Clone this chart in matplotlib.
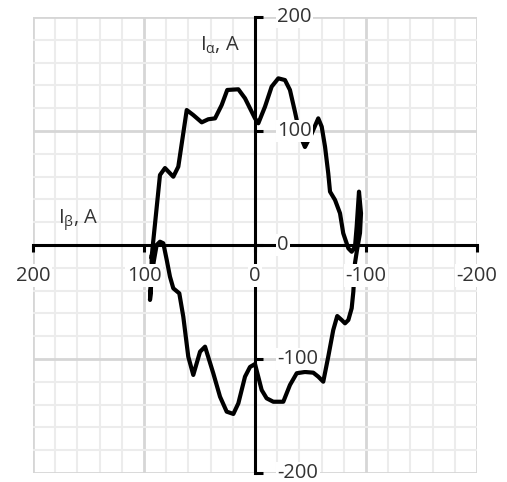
import numpy as np
import matplotlib
matplotlib.use("Agg")
import matplotlib.pyplot as plt
from matplotlib.ticker import MultipleLocator

plt.rcParams['font.family'] = ['Open Sans', 'DejaVu Sans']
plt.rcParams['mathtext.fontset'] = 'dejavusans'

# current vector trajectory: I_beta (x) vs I_alpha (y), amperes
i_beta = [93.1, 85.6, 81.1, 73.6, 69.1, 61.5, 55.6, 48.0, 42.1, 36.0,
          30.0, 25.0, 15.0, 9.0, 0.0, -3.0, -9.0, -15.0, -21.0, -27.0,
          -31.5, -36.0, -40.5, -45.0, -50.5, -57.0, -60.1, -63.1, -66.0, -67.6,
          -72.1, -76.6, -79.5, -84.1, -87.1, -90.1, -91.6, -93.7, -95.5, -94.6,
          -91.9, -90.1, -89.2, -88.6, -87.1, -84.1, -81.1, -78.1, -74.1, -70.5,
          -66.0, -61.5, -57.0, -52.5, -45.0, -37.6, -31.5, -25.5, -16.5, -10.5,
          -6.0, 0.0, 4.5, 9.0, 15.0, 19.5, 25.5, 31.5, 37.6, 45.0,
          49.5, 55.6, 60.1, 64.6, 68.2, 73.6, 76.6, 79.5, 82.6, 85.6,
          88.6, 91.0, 93.7, 94.6, 93.2, 93.1]
i_alpha = [-10.3, 61.4, 67.5, 59.9, 68.7, 118.4, 114.0, 107.6, 110.3, 111.1,
           122.8, 136.0, 136.6, 128.7, 111.1, 106.8, 121.3, 138.9, 146.2, 144.7,
           136.0, 116.9, 96.5, 86.0, 96.5, 111.1, 103.8, 86.2, 62.9, 46.8,
           39.5, 27.8, 10.3, -2.9, -5.9, -1.5, 16.1, 46.8, 27.8, 10.5,
           -4.4, -15.8, -30.7, -41.0, -55.5, -65.8, -68.7, -65.8, -62.3, -74.6,
           -98.0, -119.9, -115.5, -112.0, -111.4, -112.5, -122.8, -137.5, -137.5, -134.5,
           -127.2, -104.4, -107.0, -115.5, -138.9, -148.2, -146.2, -133.1, -112.5, -89.2,
           -93.6, -114.0, -98.0, -62.9, -42.4, -38.0, -27.8, -13.2, 1.5, 2.9,
           0.0, -13.2, -30.7, -48.2, -30.7, -10.3]

ticks = [200, 100, 0, -100, -200]
tick_labels = ['200', '100', '0', '-100', '-200']

fig = plt.figure(figsize=(5.07, 4.82), dpi=100)
ax = fig.add_axes([0.0651, 0.0187, 0.8757, 0.946])

ax.plot(i_beta, i_alpha, color='black', lw=3.0, solid_joinstyle='round', zorder=3)

ax.set_xlim(200, -200)
ax.set_ylim(-200, 200)
ax.set_xticks(ticks)
ax.set_yticks(ticks)
ax.xaxis.set_minor_locator(MultipleLocator(20))
ax.yaxis.set_minor_locator(MultipleLocator(20))
ax.grid(which='minor', color='#ececec', lw=1.5)
ax.grid(which='major', color='#d6d6d6', lw=2.0)
ax.set_axisbelow(True)

for side in ['top', 'right']:
    ax.spines[side].set_visible(False)
ax.spines['left'].set_position(('data', 0))
ax.spines['bottom'].set_position(('data', 0))
for side in ['left', 'bottom']:
    ax.spines[side].set_linewidth(2.2)
    ax.spines[side].set_zorder(4)

ax.tick_params(which='minor', length=0)
ax.tick_params(axis='x', which='major', direction='out', length=5, width=2.2,
               labelbottom=False)
ax.tick_params(axis='y', which='major', direction='in', length=6, width=2.2,
               labelleft=False)

# tick labels sit on white boxes over the trace
box = dict(facecolor='white', edgecolor='none', pad=1.0)
for v, s in zip(ticks, tick_labels):
    ax.annotate(s, xy=(v, 0), xytext=(0, -22), textcoords='offset points',
                ha='center', va='center', fontsize=14.5, color='#333333',
                bbox=box, zorder=5)
    ax.annotate(s, xy=(0, v), xytext=(16, 0), textcoords='offset points',
                ha='left', va='center', fontsize=14.5, color='#333333',
                bbox=box, zorder=5)

fig.text(220 / 507, 1 - 45 / 482, r'I$_{\mathregular{\alpha}}$, A', fontsize=14.5,
         color='#333333', ha='center', va='center')
fig.text(78 / 507, 1 - 220 / 482, r'I$_{\mathregular{\beta}}$, A', fontsize=14.5,
         color='#333333', ha='center', va='center')

fig.savefig('out.png', dpi=100)
